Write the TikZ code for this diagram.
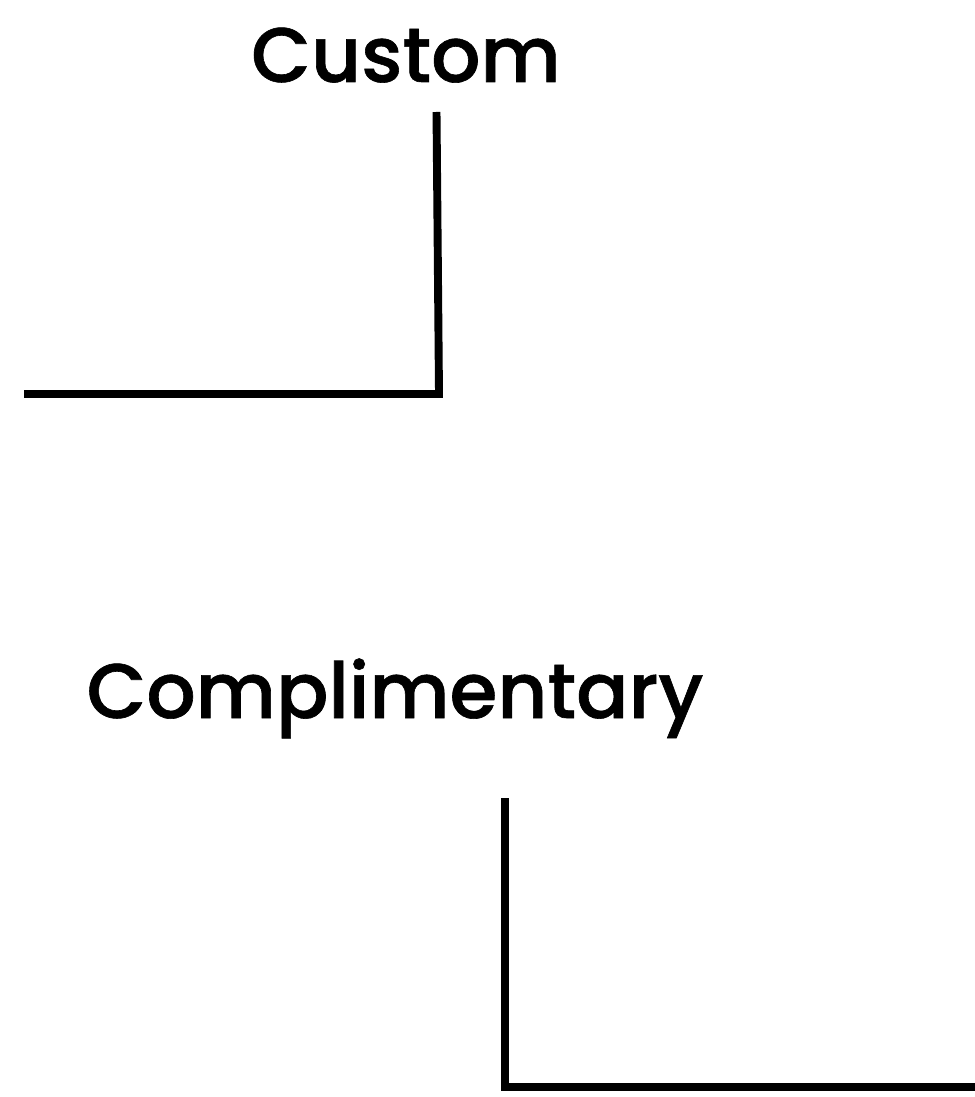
\documentclass[tikz,border=0pt]{standalone}
\usepackage{fontspec}
\setmainfont{Poppins Medium}[FakeBold=0.8]
\usepackage{tikz}
\usetikzlibrary{calc}
\tikzset{
  label/.style={font=\fontsize{44}{53}\selectfont, inner sep=0pt, anchor=base},
  bar/.style={line width=4.5pt, line join=miter, line cap=butt}
}

\begin{document}
\begin{tikzpicture}[x=0.02cm, y=-0.02cm]
        \useasboundingbox (0,0) rectangle (974,1097);
        % top label
        \node[label] (custom) at (406,82) {Custom};
        \coordinate (c1) at (436.5,112);
        \coordinate (c2) at (439,394);
        \coordinate (c3) at (24,394);
        \draw[bar] (c1) -- (c2) -- (c3);
        % bottom label
        \node[label] (compl) at (395,718) {Complimentary};
        \coordinate (d1) at (505,798);
        \coordinate (d2) at (505,1087);
        \coordinate (d3) at (980,1087);
        \draw[bar] (d1) -- (d2) -- (d3);
    \end{tikzpicture}
\end{document}
